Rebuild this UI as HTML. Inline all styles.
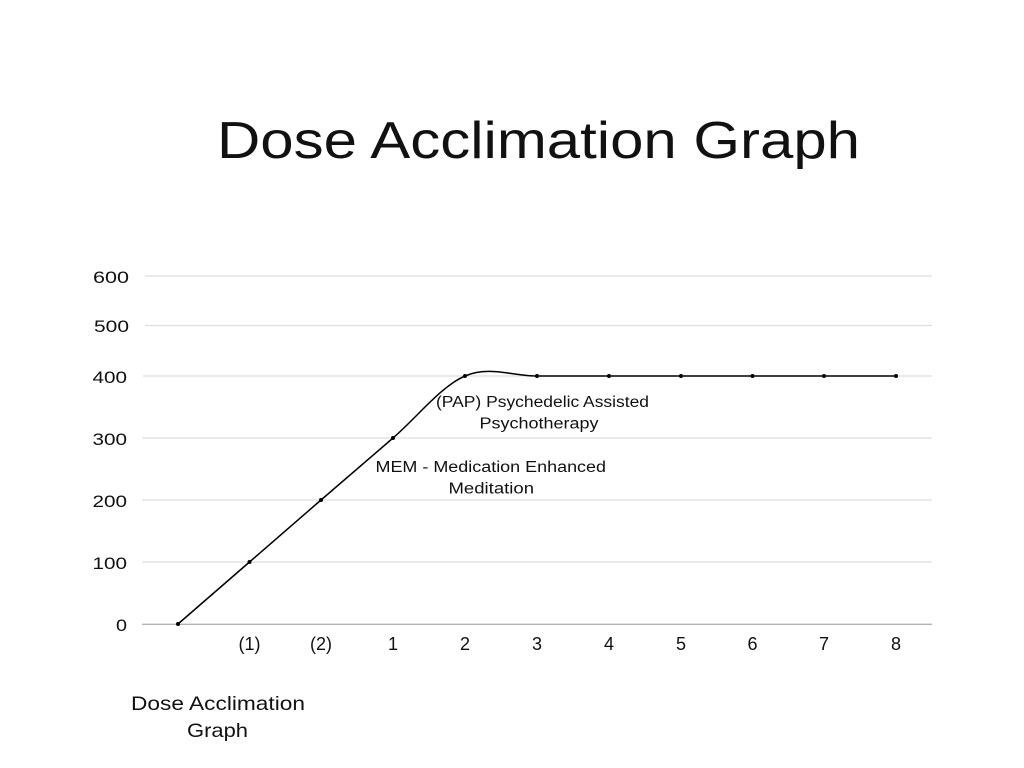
<!DOCTYPE html>
<html>
<head>
<meta charset="utf-8">
<style>
  html, body { margin: 0; padding: 0; background: #ffffff; }
  svg { display: block; }
  text { font-family: "Liberation Sans", "DejaVu Sans", sans-serif; fill: #111; }
</style>
</head>
<body>
<svg width="1024" height="768" viewBox="0 0 1024 768" xmlns="http://www.w3.org/2000/svg">
  <rect width="1024" height="768" fill="#ffffff"/>

  <!-- Title -->
  <text x="217" y="158" font-size="52" textLength="643" lengthAdjust="spacingAndGlyphs">Dose Acclimation Graph</text>

  <!-- Gridlines -->
  <g stroke="#dedede" stroke-width="1.3">
    <line x1="145" y1="276" x2="932" y2="276"/>
    <line x1="145" y1="325.5" x2="932" y2="325.5"/>
    <line x1="143" y1="376" x2="932" y2="376"/>
    <line x1="142" y1="438" x2="932" y2="438"/>
    <line x1="142" y1="500" x2="932" y2="500"/>
    <line x1="142" y1="562" x2="932" y2="562"/>
  </g>
  <line x1="142" y1="624.3" x2="932" y2="624.3" stroke="#b3b3b3" stroke-width="1.4"/>

  <!-- Y labels -->
  <g font-size="17">
    <text x="93" y="283" textLength="36" lengthAdjust="spacingAndGlyphs">600</text>
    <text x="94" y="332" textLength="35" lengthAdjust="spacingAndGlyphs">500</text>
    <text x="92.5" y="383" textLength="34.5" lengthAdjust="spacingAndGlyphs">400</text>
    <text x="92.5" y="445" textLength="34.5" lengthAdjust="spacingAndGlyphs">300</text>
    <text x="92.5" y="507" textLength="34.5" lengthAdjust="spacingAndGlyphs">200</text>
    <text x="92.5" y="569" textLength="34.5" lengthAdjust="spacingAndGlyphs">100</text>
    <text x="116" y="631" textLength="11" lengthAdjust="spacingAndGlyphs">0</text>
  </g>

  <!-- X labels -->
  <g font-size="18" text-anchor="middle">
    <text x="249.5" y="650">(1)</text>
    <text x="321" y="650">(2)</text>
    <text x="393" y="650">1</text>
    <text x="465" y="650">2</text>
    <text x="537" y="650">3</text>
    <text x="609" y="650">4</text>
    <text x="681" y="650">5</text>
    <text x="752.5" y="650">6</text>
    <text x="824" y="650">7</text>
    <text x="896" y="650">8</text>
  </g>

  <!-- Series line -->
  <path d="M178,624 L249.5,562 L321,500 L393,438 C417,417.3 441,386.3 465,376 C489,365.7 513,376 537,376 L609,376 L681,376 L752.5,376 L824,376 L896,376"
        fill="none" stroke="#000" stroke-width="1.5" stroke-linejoin="round"/>
  <g fill="#000">
    <circle cx="178" cy="624" r="2"/>
    <circle cx="249.5" cy="562" r="2"/>
    <circle cx="321" cy="500" r="2"/>
    <circle cx="393" cy="438" r="2"/>
    <circle cx="465" cy="376" r="2"/>
    <circle cx="537" cy="376" r="2"/>
    <circle cx="609" cy="376" r="2"/>
    <circle cx="681" cy="376" r="2"/>
    <circle cx="752.5" cy="376" r="2"/>
    <circle cx="824" cy="376" r="2"/>
    <circle cx="896" cy="376" r="2"/>
  </g>

  <!-- Annotations -->
  <g font-size="15.5">
    <text x="436" y="407" textLength="213" lengthAdjust="spacingAndGlyphs">(PAP) Psychedelic Assisted</text>
    <text x="479.5" y="428.5" textLength="119" lengthAdjust="spacingAndGlyphs">Psychotherapy</text>
    <text x="375.5" y="472" textLength="230.5" lengthAdjust="spacingAndGlyphs">MEM - Medication Enhanced</text>
    <text x="448.5" y="493.5" textLength="85.5" lengthAdjust="spacingAndGlyphs">Meditation</text>
  </g>

  <!-- Bottom axis title -->
  <g font-size="19.5">
    <text x="131" y="710" textLength="174" lengthAdjust="spacingAndGlyphs">Dose Acclimation</text>
    <text x="187" y="737" textLength="61" lengthAdjust="spacingAndGlyphs">Graph</text>
  </g>
</svg>
</body>
</html>
